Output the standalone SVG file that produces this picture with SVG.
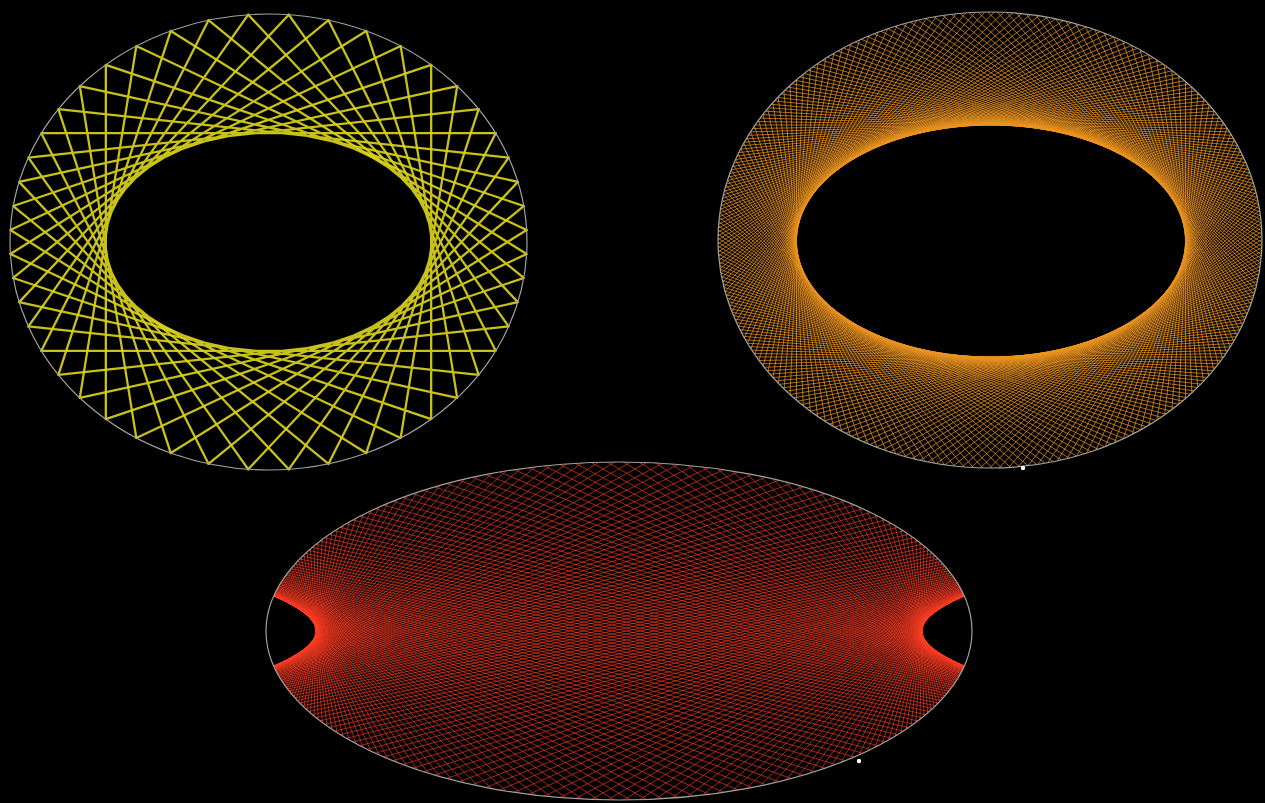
<svg xmlns="http://www.w3.org/2000/svg" width="1265" height="803" viewBox="0 0 1265 803">
<style>
.rim{fill:none;stroke:#a0a0a0;stroke-width:1.2}
.ys{fill:none;stroke:#d8d11c;stroke-width:2.3;stroke-linecap:round;stroke-opacity:0.92}
.os{stroke:#ec9420;stroke-width:0.85;stroke-opacity:0.88}
.rs{stroke:#ff3e24;stroke-width:0.8;stroke-opacity:0.8}
.dot{fill:#ffffff}
</style>
<defs>
<clipPath id="cO"><ellipse cx="990" cy="240" rx="272" ry="228"/></clipPath>
<clipPath id="cR"><ellipse cx="619" cy="631" rx="353" ry="169"/></clipPath>
<line id="oL" class="os" vector-effect="non-scaling-stroke" x1="1" y1="-1.8" x2="1" y2="1.8"/>
<g id="o0"><use href="#oL"/><use href="#oL" transform="rotate(1.40625)"/></g>
<g id="o1"><use href="#o0"/><use href="#o0" transform="rotate(2.8125)"/></g>
<g id="o2"><use href="#o1"/><use href="#o1" transform="rotate(5.625)"/></g>
<g id="o3"><use href="#o2"/><use href="#o2" transform="rotate(11.25)"/></g>
<g id="o4"><use href="#o3"/><use href="#o3" transform="rotate(22.5)"/></g>
<g id="o5"><use href="#o4"/><use href="#o4" transform="rotate(45)"/></g>
<g id="o6"><use href="#o5"/><use href="#o5" transform="rotate(90)"/></g>
<g id="o7"><use href="#o6"/><use href="#o6" transform="rotate(180)"/></g>
<line id="rL" class="rs" vector-effect="non-scaling-stroke" x1="1" y1="-7" x2="1" y2="7"/>
<g id="rq">
<use href="#rL" transform="matrix(1.00001,0.00481,0.00481,1.00001,0,0)"/>
<use href="#rL" transform="matrix(1.0001,0.01447,0.01447,1.0001,0,0)"/>
<use href="#rL" transform="matrix(1.00029,0.02414,0.02414,1.00029,0,0)"/>
<use href="#rL" transform="matrix(1.00057,0.03388,0.03388,1.00057,0,0)"/>
<use href="#rL" transform="matrix(1.00095,0.04367,0.04367,1.00095,0,0)"/>
<use href="#rL" transform="matrix(1.00144,0.05359,0.05359,1.00144,0,0)"/>
<use href="#rL" transform="matrix(1.00202,0.0636,0.0636,1.00202,0,0)"/>
<use href="#rL" transform="matrix(1.00272,0.07376,0.07376,1.00272,0,0)"/>
<use href="#rL" transform="matrix(1.00353,0.08413,0.08413,1.00353,0,0)"/>
<use href="#rL" transform="matrix(1.00447,0.09464,0.09464,1.00447,0,0)"/>
<use href="#rL" transform="matrix(1.00554,0.10543,0.10543,1.00554,0,0)"/>
<use href="#rL" transform="matrix(1.00675,0.1164,0.1164,1.00675,0,0)"/>
<use href="#rL" transform="matrix(1.00812,0.1277,0.1277,1.00812,0,0)"/>
<use href="#rL" transform="matrix(1.00964,0.13924,0.13924,1.00964,0,0)"/>
<use href="#rL" transform="matrix(1.01136,0.15118,0.15118,1.01136,0,0)"/>
<use href="#rL" transform="matrix(1.01326,0.1634,0.1634,1.01326,0,0)"/>
<use href="#rL" transform="matrix(1.01537,0.17608,0.17608,1.01537,0,0)"/>
<use href="#rL" transform="matrix(1.0177,0.18911,0.18911,1.0177,0,0)"/>
<use href="#rL" transform="matrix(1.02033,0.20264,0.20264,1.02033,0,0)"/>
<use href="#rL" transform="matrix(1.02321,0.21668,0.21668,1.02321,0,0)"/>
<use href="#rL" transform="matrix(1.02638,0.2312,0.2312,1.02638,0,0)"/>
<use href="#rL" transform="matrix(1.02991,0.2464,0.2464,1.02991,0,0)"/>
<use href="#rL" transform="matrix(1.03378,0.26215,0.26215,1.03378,0,0)"/>
<use href="#rL" transform="matrix(1.03805,0.27856,0.27856,1.03805,0,0)"/>
<use href="#rL" transform="matrix(1.04283,0.29575,0.29575,1.04283,0,0)"/>
<use href="#rL" transform="matrix(1.04805,0.31367,0.31367,1.04805,0,0)"/>
<use href="#rL" transform="matrix(1.05382,0.3324,0.3324,1.05382,0,0)"/>
<use href="#rL" transform="matrix(1.06017,0.35217,0.35217,1.06017,0,0)"/>
<use href="#rL" transform="matrix(1.06724,0.37283,0.37283,1.06724,0,0)"/>
<use href="#rL" transform="matrix(1.07499,0.39448,0.39448,1.07499,0,0)"/>
<use href="#rL" transform="matrix(1.08368,0.41762,0.41762,1.08368,0,0)"/>
<use href="#rL" transform="matrix(1.09324,0.44179,0.44179,1.09324,0,0)"/>
<use href="#rL" transform="matrix(1.10379,0.46727,0.46727,1.10379,0,0)"/>
<use href="#rL" transform="matrix(1.11546,0.49426,0.49426,1.11546,0,0)"/>
<use href="#rL" transform="matrix(1.12865,0.52329,0.52329,1.12865,0,0)"/>
<use href="#rL" transform="matrix(1.14305,0.55372,0.55372,1.14305,0,0)"/>
<use href="#rL" transform="matrix(1.15914,0.58619,0.58619,1.15914,0,0)"/>
<use href="#rL" transform="matrix(1.17699,0.62069,0.62069,1.17699,0,0)"/>
<use href="#rL" transform="matrix(1.19701,0.65792,0.65792,1.19701,0,0)"/>
<use href="#rL" transform="matrix(1.21961,0.6982,0.6982,1.21961,0,0)"/>
<use href="#rL" transform="matrix(1.24467,0.74109,0.74109,1.24467,0,0)"/>
<use href="#rL" transform="matrix(1.27286,0.78756,0.78756,1.27286,0,0)"/>
<use href="#rL" transform="matrix(1.30456,0.83781,0.83781,1.30456,0,0)"/>
<use href="#rL" transform="matrix(1.34,0.89196,0.89196,1.34,0,0)"/>
<use href="#rL" transform="matrix(1.38093,0.95236,0.95236,1.38093,0,0)"/>
<use href="#rL" transform="matrix(1.42753,1.01879,1.01879,1.42753,0,0)"/>
<use href="#rL" transform="matrix(1.48061,1.09191,1.09191,1.48061,0,0)"/>
<use href="#rL" transform="matrix(1.54127,1.17286,1.17286,1.54127,0,0)"/>
<use href="#rL" transform="matrix(1.61163,1.26386,1.26386,1.61163,0,0)"/>
<use href="#rL" transform="matrix(1.69306,1.3661,1.3661,1.69306,0,0)"/>
<use href="#rL" transform="matrix(1.78727,1.48135,1.48135,1.78727,0,0)"/>
<use href="#rL" transform="matrix(1.8997,1.61519,1.61519,1.8997,0,0)"/>
<use href="#rL" transform="matrix(2.0358,1.7733,1.7733,2.0358,0,0)"/>
<use href="#rL" transform="matrix(2.19967,1.95921,1.95921,2.19967,0,0)"/>
<use href="#rL" transform="matrix(2.39999,2.18172,2.18172,2.39999,0,0)"/>
<use href="#rL" transform="matrix(2.65151,2.4557,2.4557,2.65151,0,0)"/>
<use href="#rL" transform="matrix(2.97316,2.79995,2.79995,2.97316,0,0)"/>
<use href="#rL" transform="matrix(3.39922,3.2488,3.2488,3.39922,0,0)"/>
<use href="#rL" transform="matrix(3.98288,3.8553,3.8553,3.98288,0,0)"/>
<use href="#rL" transform="matrix(4.83524,4.7307,4.7307,4.83524,0,0)"/>
<use href="#rL" transform="matrix(6.18389,6.1025,6.1025,6.18389,0,0)"/>
<use href="#rL" transform="matrix(8.62467,8.5665,8.5665,8.62467,0,0)"/>
<use href="#rL" transform="matrix(14.3419,14.307,14.307,14.3419,0,0)"/>
<use href="#rL" transform="matrix(43.0116,43,43,43.0116,0,0)"/>
</g>
</defs>
<rect x="0" y="0" width="1265" height="803" fill="#000000"/>
<g id="yellow-figure">
<path class="ys" d="M526.64 230.03L136.31 46.07M523.76 206.03L105.83 64.81M517.85 181.87L79.81 86.16M508.61 157.54L58.36 109.21M495.67 133.2L41.33 133.2M478.64 109.21L28.39 157.54M457.19 86.16L19.15 181.87M431.17 64.81L13.24 206.03M400.69 46.07L10.36 230.03M366.21 30.91L10.36 253.97M328.51 20.23L13.24 277.97M288.74 14.7L19.15 302.13M248.26 14.7L28.39 326.46M208.49 20.23L41.33 350.8M170.79 30.91L58.36 374.79M136.31 46.07L79.81 397.84M105.83 64.81L105.83 419.19M79.81 86.16L136.31 437.93M58.36 109.21L170.79 453.09M41.33 133.2L208.49 463.77M28.39 157.54L248.26 469.3M19.15 181.87L288.74 469.3M13.24 206.03L328.51 463.77M10.36 230.03L366.21 453.09"/>
<path class="ys" d="M10.36 253.97L400.69 437.93M13.24 277.97L431.17 419.19M19.15 302.13L457.19 397.84M28.39 326.46L478.64 374.79M41.33 350.8L495.67 350.8M58.36 374.79L508.61 326.46M79.81 397.84L517.85 302.13M105.83 419.19L523.76 277.97M136.31 437.93L526.64 253.97M170.79 453.09L526.64 230.03M208.49 463.77L523.76 206.03M248.26 469.3L517.85 181.87M288.74 469.3L508.61 157.54M328.51 463.77L495.67 133.2M366.21 453.09L478.64 109.21M400.69 437.93L457.19 86.16M431.17 419.19L431.17 64.81M457.19 397.84L400.69 46.07M478.64 374.79L366.21 30.91M495.67 350.8L328.51 20.23M508.61 326.46L288.74 14.7M517.85 302.13L248.26 14.7M523.76 277.97L208.49 20.23M526.64 253.97L170.79 30.91"/>
<ellipse class="rim" cx="268.5" cy="242" rx="258.5" ry="228"/>
</g>
<g id="orange-figure">
<g clip-path="url(#cO)">
<g transform="translate(991,241) scale(194.5,116)"><use href="#o7"/></g>
</g>
<ellipse class="rim" cx="990" cy="240" rx="272" ry="228"/>
<circle class="dot" cx="1023" cy="468" r="2.2"/>
</g>
<g id="red-figure">
<g clip-path="url(#cR)">
<g transform="translate(619,631) scale(303,64)">
<use href="#rq"/>
<use href="#rq" transform="scale(1,-1)"/>
<use href="#rq" transform="scale(-1,1)"/>
<use href="#rq" transform="scale(-1,-1)"/>
</g>
</g>
<ellipse class="rim" cx="619" cy="631" rx="353" ry="169"/>
<circle class="dot" cx="859" cy="761" r="2.2"/>
</g>
</svg>
